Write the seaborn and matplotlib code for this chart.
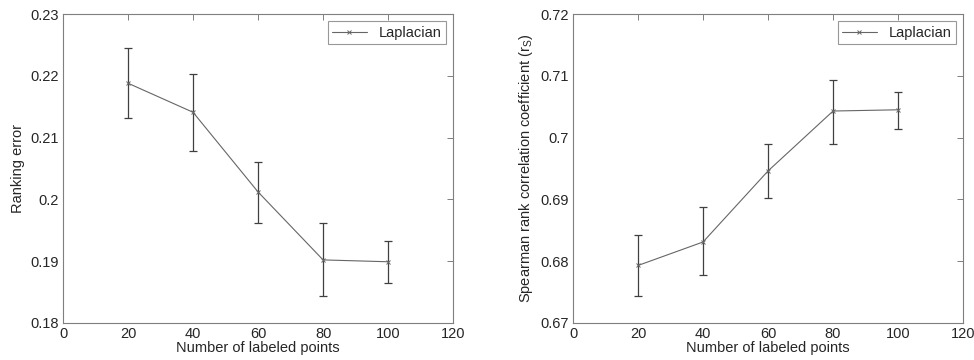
import numpy as np
import pandas as pd
import matplotlib
matplotlib.use('Agg')
import matplotlib.pyplot as plt
import seaborn as sns

# data
n_labeled = [20, 40, 60, 80, 100]
rank_err = [0.2188, 0.2141, 0.2012, 0.1902, 0.1899]
rank_err_lo = [0.2131, 0.2079, 0.1962, 0.1844, 0.1865]
rank_err_hi = [0.2245, 0.2203, 0.2061, 0.1962, 0.1933]
spearman = [0.6793, 0.6831, 0.6946, 0.7043, 0.7045]
spearman_lo = [0.6743, 0.6777, 0.6903, 0.6990, 0.7014]
spearman_hi = [0.6842, 0.6888, 0.6989, 0.7094, 0.7074]

left_ticks = [0.18, 0.19, 0.2, 0.21, 0.22, 0.23]
left_ticklabels = ['0.18', '0.19', '0.2', '0.21', '0.22', '0.23']
right_ticks = [0.67, 0.68, 0.69, 0.7, 0.71, 0.72]
right_ticklabels = ['0.67', '0.68', '0.69', '0.7', '0.71', '0.72']
x_ticks = [0, 20, 40, 60, 80, 100, 120]

sns.set_style('white')
plt.rcParams['font.family'] = ['Liberation Sans', 'DejaVu Sans']
plt.rcParams['font.size'] = 10.5

fig = plt.figure(figsize=(9.74, 3.6), dpi=100)
ax1 = fig.add_axes([0.0647, 0.103, 0.4005, 0.858])
ax2 = fig.add_axes([0.5883, 0.103, 0.4005, 0.858])

line_col = '#666666'
spine_col = '#7f7f7f'


def draw(ax, y, lo, hi, yticks, yticklabels, ylabel):
    df = pd.DataFrame({'x': n_labeled, 'y': y})
    yerr = [np.array(y) - np.array(lo), np.array(hi) - np.array(y)]
    ax.errorbar(n_labeled, y, yerr=yerr, fmt='none', ecolor='#404040',
                elinewidth=0.9, capsize=3, capthick=0.9)
    sns.lineplot(data=df, x='x', y='y', ax=ax, color=line_col, linewidth=0.8,
                 marker='x', markersize=3.5, markeredgewidth=0.7,
                 markeredgecolor=line_col, label='Laplacian')
    ax.set_xlim(0, 120)
    ax.set_ylim(yticks[0], yticks[-1])
    ax.set_xticks(x_ticks)
    ax.set_xticklabels([str(t) for t in x_ticks])
    ax.set_yticks(yticks)
    ax.set_yticklabels(yticklabels)
    ax.set_xlabel('Number of labeled points', labelpad=0)
    ax.set_ylabel(ylabel, labelpad=4)
    ax.tick_params(direction='in', top=True, right=True, length=4,
                   width=0.7, color=spine_col, labelsize=10.5, pad=3)
    for s in ax.spines.values():
        s.set_color(spine_col)
        s.set_linewidth(0.8)
    leg = ax.legend(loc='upper right', frameon=True, fancybox=False,
                    edgecolor=spine_col, fontsize=10.5, handlelength=2.4,
                    borderpad=0.3, borderaxespad=0.5)
    leg.get_frame().set_linewidth(0.8)


draw(ax1, rank_err, rank_err_lo, rank_err_hi, left_ticks, left_ticklabels,
     'Ranking error')
draw(ax2, spearman, spearman_lo, spearman_hi, right_ticks, right_ticklabels,
     'Spearman rank correlation coefficient (r$_\\mathregular{S}$)')

fig.savefig('out.png', dpi=100)
